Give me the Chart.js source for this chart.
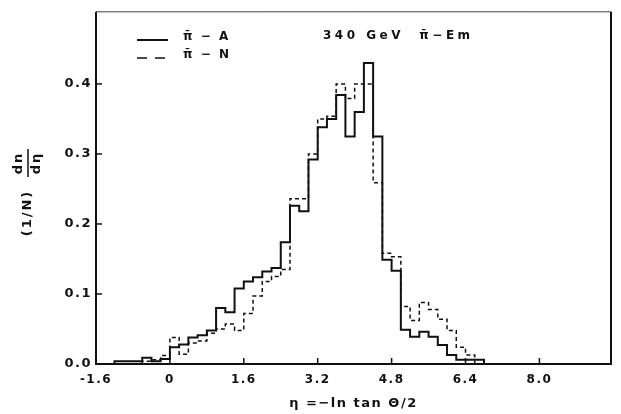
<!DOCTYPE html>
<html>
<head>
<meta charset="utf-8">
<script src="https://cdn.jsdelivr.net/npm/chart.js@4"></script>
<style>
  html, body { margin: 0; padding: 0; background: #fff; }
  #wrap { width: 621px; height: 414px; }
</style>
</head>
<body>
<div id="wrap"><canvas id="myChart" width="621" height="414"></canvas></div>
<script>
// bin edges in eta (bin width 0.2), last entry closes the last bin
var binEdges = [-1.2, -1.0, -0.8, -0.6, -0.4, -0.2, 0.0, 0.2, 0.4, 0.6, 0.8, 1.0, 1.2, 1.4,
    1.6, 1.8, 2.0, 2.2, 2.4, 2.6, 2.8, 3.0, 3.2, 3.4, 3.6, 3.8, 4.0, 4.2, 4.4, 4.6,
    4.8, 5.0, 5.2, 5.4, 5.6, 5.8, 6.0, 6.2, 6.4, 6.6, 6.8, 7.0];

// pi - A (solid)
var piA = [0.004, 0.004, 0.004, 0.004, 0.009, 0.004, 0.007, 0.024, 0.028, 0.038, 0.041, 0.048, 0.080, 0.074,
    0.108, 0.118, 0.124, 0.132, 0.137, 0.174, 0.226, 0.218, 0.292, 0.338, 0.350, 0.384, 0.325, 0.360, 0.430, 0.325,
    0.149, 0.133, 0.049, 0.039, 0.046, 0.039, 0.027, 0.013, 0.006, 0.006, 0.006];

// pi - N (dashed)
var piN = [0, 0, 0, 0, 0.004, 0.006, 0.012, 0.038, 0.014, 0.030, 0.033, 0.044, 0.050, 0.057,
    0.048, 0.072, 0.097, 0.118, 0.125, 0.135, 0.236, 0.236, 0.300, 0.350, 0.354, 0.400, 0.379, 0.400, 0.400, 0.259,
    0.158, 0.153, 0.082, 0.062, 0.088, 0.078, 0.064, 0.048, 0.024, 0.013, 0];

var xTicks = [-1.6, 0, 1.6, 3.2, 4.8, 6.4, 8.0];
var xTickLabels = ['-1.6', '0', '1.6', '3.2', '4.8', '6.4', '8.0'];
var yTicks = [0, 0.1, 0.2, 0.3, 0.4];
var yTickLabels = ['0.0', '0.1', '0.2', '0.3', '0.4'];

var ink = '#111';
var fontFamily = "'DejaVu Sans', sans-serif";

// histogram outline: start on the axis, step through the bins, drop back down
function steps(values) {
    var pts = [{x: binEdges[0], y: 0}];
    for (var i = 0; i < values.length; i++) {
        pts.push({x: binEdges[i], y: values[i]});
    }
    pts.push({x: binEdges[binEdges.length - 1], y: 0});
    return pts;
}

var spacing = {
    id: 'spacing',
    beforeLayout: function(chart) { chart.ctx.letterSpacing = '1.5px'; },
    beforeDraw: function(chart) { chart.ctx.letterSpacing = '1.5px'; }
};

var decorations = {
    id: 'decorations',
    afterDraw: function(chart) {
        var ctx = chart.ctx;
        var a = chart.chartArea;
        var x = chart.scales.x;
        var y = chart.scales.y;
        ctx.save();

        // frame
        ctx.strokeStyle = ink;
        ctx.lineWidth = 2;
        ctx.beginPath();
        ctx.moveTo(a.left, a.top);
        ctx.lineTo(a.left, a.bottom);
        ctx.lineTo(a.right, a.bottom);
        ctx.lineTo(a.right, a.top);
        ctx.stroke();
        ctx.lineWidth = 1;
        ctx.strokeStyle = '#444';
        ctx.beginPath();
        ctx.moveTo(a.left, a.top);
        ctx.lineTo(a.right, a.top);
        ctx.stroke();

        // inward tick marks
        ctx.strokeStyle = ink;
        ctx.lineWidth = 1.5;
        xTicks.forEach(function(v) {
            if (v <= x.min) return;
            var px = x.getPixelForValue(v);
            ctx.beginPath();
            ctx.moveTo(px, a.bottom);
            ctx.lineTo(px, a.bottom - 6);
            ctx.stroke();
        });
        yTicks.forEach(function(v) {
            if (v <= y.min) return;
            var py = y.getPixelForValue(v);
            ctx.beginPath();
            ctx.moveTo(a.left, py);
            ctx.lineTo(a.left + 6, py);
            ctx.stroke();
        });

        ctx.fillStyle = ink;
        ctx.textBaseline = 'middle';

        // y axis title: (1/N) dn/dη, rotated
        ctx.save();
        ctx.translate(28, 213);
        ctx.rotate(-Math.PI / 2);
        ctx.font = 'bold 13px ' + fontFamily;
        ctx.letterSpacing = '2px';
        ctx.textAlign = 'center';
        ctx.fillText('(1/N)', 0, 0);
        ctx.fillText('dn', 50, -9);
        ctx.fillText('dη', 50, 9);
        ctx.lineWidth = 1.5;
        ctx.beginPath();
        ctx.moveTo(36, 0);
        ctx.lineTo(64, 0);
        ctx.stroke();
        ctx.restore();

        // legend
        ctx.font = 'bold 12px ' + fontFamily;
        ctx.letterSpacing = '2px';
        ctx.textAlign = 'left';
        var legendRows = [40, 58];
        chart.data.datasets.forEach(function(ds, i) {
            var ly = legendRows[i];
            ctx.lineWidth = ds.borderWidth;
            ctx.setLineDash(i === 0 ? [] : [10, 8]);
            ctx.beginPath();
            ctx.moveTo(137, ly);
            ctx.lineTo(168, ly);
            ctx.stroke();
            ctx.setLineDash([]);
            ctx.fillText(ds.label, 183, ly - 3);
        });

        // title
        ctx.letterSpacing = '3.5px';
        ctx.font = 'bold 12px ' + fontFamily;
        ctx.fillText('340 GeV  π̄−Em', 323, 36);

        ctx.restore();
    }
};

var ctx = document.getElementById('myChart').getContext('2d');
var chart = new Chart(ctx, {
    type: 'line',
    data: {
        datasets: [{
            label: 'π̄ − A',
            data: steps(piA),
            borderColor: ink,
            borderWidth: 2,
            stepped: 'after',
            pointRadius: 0,
            fill: false
        }, {
            label: 'π̄ − N',
            data: steps(piN),
            borderColor: ink,
            borderWidth: 1.5,
            borderDash: [4, 3],
            stepped: 'after',
            pointRadius: 0,
            fill: false
        }]
    },
    options: {
        responsive: false,
        animation: false,
        layout: {
            padding: { top: 7, right: 10, left: 0, bottom: 0 }
        },
        plugins: {
            legend: { display: false },
            tooltip: { enabled: false }
        },
        scales: {
            x: {
                type: 'linear',
                min: -1.6,
                max: 9.55,
                afterBuildTicks: function(scale) {
                    scale.ticks = xTicks.map(function(v) { return {value: v}; });
                },
                afterFit: function(scale) { scale.height = 50; },
                grid: { display: false, drawTicks: false },
                border: { display: false },
                ticks: {
                    color: ink,
                    padding: 9,
                    maxRotation: 0,
                    font: { family: fontFamily, size: 12, weight: 'bold' },
                    callback: function(value, index) { return xTickLabels[index]; }
                },
                title: {
                    display: true,
                    text: 'η =−ln tan Θ/2',
                    color: ink,
                    padding: { top: 0, bottom: 3 },
                    font: { family: fontFamily, size: 13, weight: 'bold' }
                }
            },
            y: {
                min: 0,
                max: 0.503,
                afterBuildTicks: function(scale) {
                    scale.ticks = yTicks.map(function(v) { return {value: v}; });
                },
                afterFit: function(scale) { scale.width = 96; },
                grid: { display: false, drawTicks: false },
                border: { display: false },
                ticks: {
                    color: ink,
                    padding: 4,
                    font: { family: fontFamily, size: 13, weight: 'bold' },
                    callback: function(value, index) { return yTickLabels[index]; }
                }
            }
        }
    },
    plugins: [spacing, decorations]
});
</script>
</body>
</html>
